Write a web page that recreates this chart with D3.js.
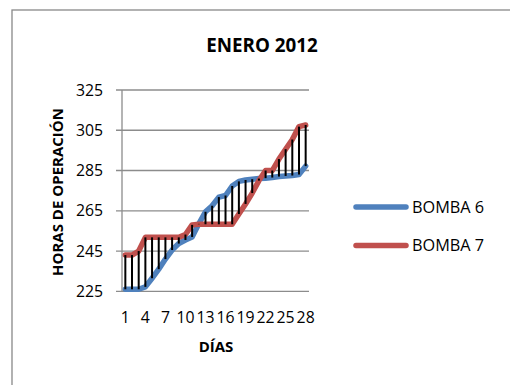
<!DOCTYPE html>
<html>
<head>
<meta charset="utf-8">
<script src="https://cdn.jsdelivr.net/npm/d3@7"></script>
<style>
  html, body { margin: 0; padding: 0; background: #fff; }
  svg { display: block; }
  text { font-family: "Open Sans", "Noto Sans", sans-serif; fill: #000; }
</style>
</head>
<body>
<svg id="chart" width="510" height="385"></svg>
<script>
// Operating hours per day, January 2012
const days = d3.range(1, 29);
const bomba6 = [226, 226, 226, 227.2, 231.5, 236, 241, 245.5, 248.7, 250.5, 252, 258.5, 264.5, 267.5, 271.8, 272.6, 277.3, 279.6, 280.3, 280.7, 281, 281.2, 281.5, 282, 282.3, 282.5, 283, 287.2];
const bomba7 = [243, 243, 245, 251.8, 251.8, 251.8, 251.8, 251.8, 251.8, 253.2, 258, 258.3, 258.3, 258.3, 258.3, 258.3, 258.3, 263.4, 268.4, 273.8, 280, 285, 285, 290.7, 295.6, 300.4, 306.8, 307.6];
const yTicks = [225, 245, 265, 285, 305, 325];
const xTickDays = [1, 4, 7, 10, 13, 16, 19, 22, 25, 28];
const seriesNames = ["BOMBA 6", "BOMBA 7"];
const seriesColors = ["#4F81BD", "#C0504D"];

const svg = d3.select("#chart");

// outer chart frame
svg.append("rect")
  .attr("x", 12).attr("y", 10)
  .attr("width", 520).attr("height", 400)
  .attr("fill", "none").attr("stroke", "#898989").attr("stroke-width", 1.3);

const x = d3.scaleBand().domain(days).range([122, 309]).padding(0);
const y = d3.scaleLinear().domain([225, 325]).range([291.3, 90]);
const cx = d => x(d) + x.bandwidth() / 2;

// horizontal gridlines with outside ticks
svg.append("g").selectAll("line").data(yTicks).join("line")
  .attr("x1", 116).attr("x2", 309)
  .attr("y1", d => y(d)).attr("y2", d => y(d))
  .attr("stroke", "#8c8c8c").attr("stroke-width", 1.3);

// vertical axis line
svg.append("line")
  .attr("x1", 122).attr("x2", 122)
  .attr("y1", y(325)).attr("y2", y(225))
  .attr("stroke", "#8c8c8c").attr("stroke-width", 1.3);

// y tick labels
svg.append("g").selectAll("text").data(yTicks).join("text")
  .attr("x", 103).attr("y", d => y(d) + 5.5)
  .attr("text-anchor", "end")
  .attr("font-size", 15.8)
  .text(d => d);

// x tick labels
svg.append("g").selectAll("text").data(xTickDays).join("text")
  .attr("x", d => cx(d)).attr("y", 322.5)
  .attr("text-anchor", "middle")
  .attr("font-size", 15.8)
  .text(d => d);

// series lines
const line = d3.line().x((v, i) => cx(days[i])).y(v => y(v));
[bomba6, bomba7].forEach((vals, k) => {
  svg.append("path")
    .datum(vals)
    .attr("d", line)
    .attr("fill", "none")
    .attr("stroke", seriesColors[k])
    .attr("stroke-width", 5.5)
    .attr("stroke-linejoin", "round")
    .attr("stroke-linecap", "round");
});

// high-low lines between the two pumps
svg.append("g").selectAll("line").data(days).join("line")
  .attr("x1", d => cx(d)).attr("x2", d => cx(d))
  .attr("y1", (d, i) => y(Math.max(bomba6[i], bomba7[i])))
  .attr("y2", (d, i) => y(Math.min(bomba6[i], bomba7[i])))
  .attr("stroke", "#000").attr("stroke-width", 2);

// titles
svg.append("text")
  .attr("x", 262).attr("y", 52)
  .attr("text-anchor", "middle")
  .attr("font-size", 18.8).attr("font-weight", "bold")
  .text("ENERO 2012");

svg.append("text")
  .attr("transform", "translate(63,192) rotate(-90)")
  .attr("text-anchor", "middle")
  .attr("font-size", 15).attr("font-weight", "bold")
  .text("HORAS DE OPERACIÓN");

svg.append("text")
  .attr("x", 216).attr("y", 352)
  .attr("text-anchor", "middle")
  .attr("font-size", 15).attr("font-weight", "bold")
  .text("DÍAS");

// legend
const legend = svg.append("g").selectAll("g").data(seriesNames).join("g")
  .attr("transform", (d, i) => `translate(0, ${207 + i * 38.5})`);
legend.append("line")
  .attr("x1", 356).attr("x2", 406)
  .attr("stroke", (d, i) => seriesColors[i])
  .attr("stroke-width", 5.5)
  .attr("stroke-linecap", "round");
legend.append("text")
  .attr("x", 412).attr("y", 5.8)
  .attr("font-size", 16.3)
  .text(d => d);
</script>
</body>
</html>
